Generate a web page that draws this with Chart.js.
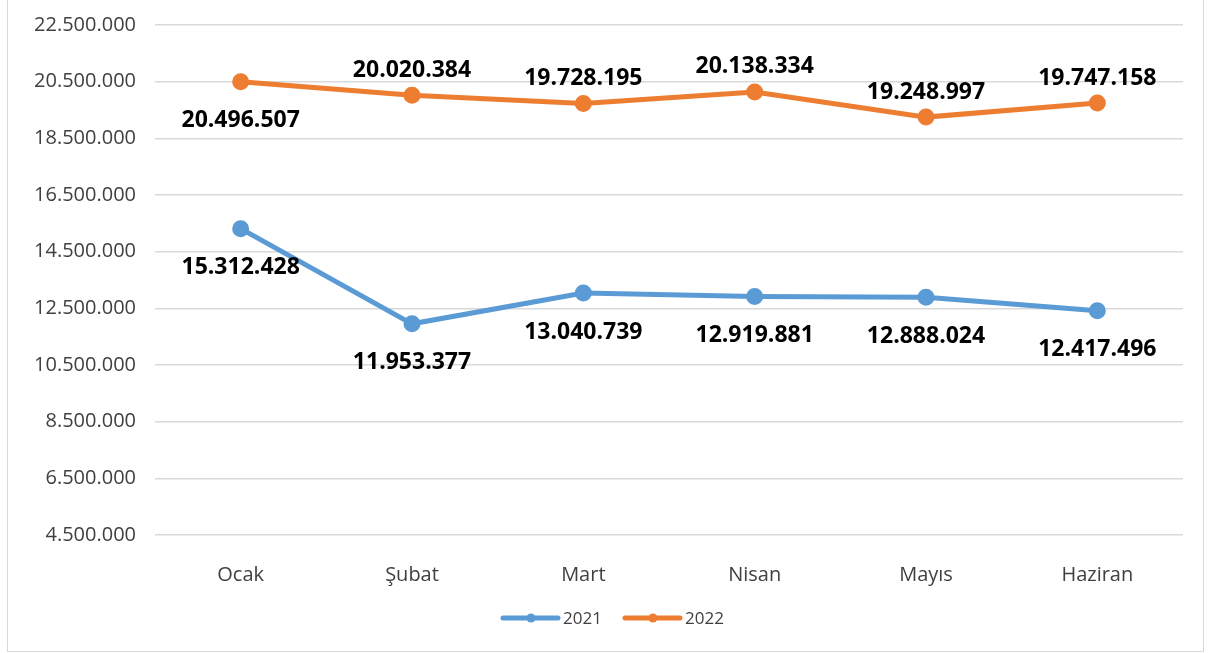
<!DOCTYPE html>
<html>
<head>
<meta charset="utf-8">
<script src="https://cdn.jsdelivr.net/npm/chart.js@4/dist/chart.umd.min.js"></script>
<style>
  body { margin: 0; background: #fff; }
  #box { position: absolute; left: 7px; top: 0px; width: 1195px; height: 651px; border: 1px solid #d9d9d9; border-top: none; }
  #myChart { display: block; }
</style>
</head>
<body>
<div id="box"><canvas id="myChart" width="1195" height="651"></canvas></div>
<script>
'use strict';

var months = ["Ocak", "Şubat", "Mart", "Nisan", "Mayıs", "Haziran"];
var values2021 = [15312428, 11953377, 13040739, 12919881, 12888024, 12417496];
var values2022 = [20496507, 20020384, 19728195, 20138334, 19248997, 19747158];
// label above (-1) or below (+1) the point
var labelPos2021 = [1, 1, 1, 1, 1, 1];
var labelPos2022 = [1, -1, -1, -1, -1, -1];
var yTicks = [4500000, 6500000, 8500000, 10500000, 12500000, 14500000, 16500000, 18500000, 20500000, 22500000];

function fmt(v) {
  return String(v).replace(/\B(?=(\d{3})+(?!\d))/g, ".");
}

var font = "'Open Sans', 'DejaVu Sans', sans-serif";

// sayı etiketleri
var dataLabelPlugin = {
  id: 'dataLabels',
  afterDatasetsDraw: function (chart) {
    var ctx = chart.ctx;
    ctx.save();
    ctx.fillStyle = '#000';
    ctx.font = 'bold 23px ' + font;
    ctx.textAlign = 'center';
    ctx.textBaseline = 'middle';
    chart.data.datasets.forEach(function (dataset, i) {
      var meta = chart.getDatasetMeta(i);
      meta.data.forEach(function (el, index) {
        var dir = dataset.labelPos[index];
        var dy = dir > 0 ? 39 : -25;
        ctx.fillText(fmt(dataset.data[index]), el.x, el.y + dy);
      });
    });
    ctx.restore();
  }
};

// alttaki legend
var legendPlugin = {
  id: 'lineLegend',
  afterDraw: function (chart) {
    var ctx = chart.ctx;
    var y = 618;
    var x = 495;
    ctx.save();
    ctx.font = '17px ' + font;
    ctx.textBaseline = 'middle';
    chart.data.datasets.forEach(function (ds) {
      ctx.strokeStyle = ds.borderColor;
      ctx.lineWidth = 5;
      ctx.lineCap = 'round';
      ctx.beginPath();
      ctx.moveTo(x, y);
      ctx.lineTo(x + 55, y);
      ctx.stroke();
      ctx.fillStyle = ds.borderColor;
      ctx.beginPath();
      ctx.arc(x + 28, y, 4.5, 0, Math.PI * 2);
      ctx.fill();
      ctx.fillStyle = '#404040';
      ctx.fillText(ds.label, x + 60, y + 1);
      x += 122;
    });
    ctx.restore();
  }
};

var ctx = document.getElementById("myChart");
var myChart = new Chart(ctx, {
  type: 'line',
  data: {
    labels: months,
    datasets: [{
      label: '2021',
      data: values2021,
      labelPos: labelPos2021,
      borderColor: '#5b9bd5',
      backgroundColor: '#5b9bd5',
      borderWidth: 5,
      pointRadius: 6,
      pointHoverRadius: 6,
      tension: 0
    }, {
      label: '2022',
      data: values2022,
      labelPos: labelPos2022,
      borderColor: '#ed7d31',
      backgroundColor: '#ed7d31',
      borderWidth: 5,
      pointRadius: 6,
      pointHoverRadius: 6,
      tension: 0
    }]
  },
  plugins: [dataLabelPlugin, legendPlugin],
  options: {
    responsive: false,
    animation: false,
    layout: { padding: { left: 0, top: 25, right: 20, bottom: 64 } },
    plugins: {
      legend: { display: false },
      tooltip: { enabled: false }
    },
    scales: {
      x: {
        offset: true,
        grid: { display: false },
        border: { display: false },
        ticks: { color: '#404040', font: { size: 20, family: font }, padding: 20 },
        afterFit: function (scale) { scale.height = 52; }
      },
      y: {
        min: yTicks[0],
        max: yTicks[yTicks.length - 1],
        afterBuildTicks: function (scale) {
          scale.ticks = yTicks.map(function (v) { return { value: v }; });
        },
        grid: { color: '#d9d9d9', lineWidth: 1.5, drawTicks: false },
        border: { display: false },
        ticks: {
          color: '#404040',
          font: { size: 20, family: font },
          padding: 19,
          callback: function (v) { return fmt(v); }
        },
        afterFit: function (scale) {
          scale.width = 147;
          scale.paddingTop = 0;
          scale.paddingBottom = 0;
        }
      }
    }
  }
});
</script>
</body>
</html>
